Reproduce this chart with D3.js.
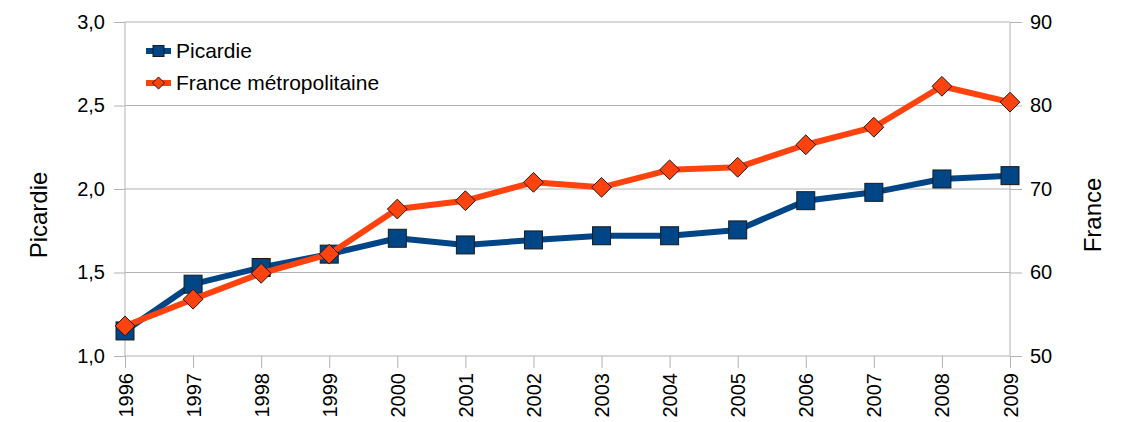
<!DOCTYPE html>
<html>
<head>
<meta charset="utf-8">
<script src="https://cdn.jsdelivr.net/npm/d3@7"></script>
<style>
  body { margin: 0; background: #fff; }
  svg { display: block; font-family: "Liberation Sans", Arial, sans-serif; }
</style>
</head>
<body>
<div id="chart"></div>
<script>
const years = ["1996", "1997", "1998", "1999", "2000", "2001", "2002", "2003", "2004", "2005", "2006", "2007", "2008", "2009"];
const picardie = [1.15, 1.43, 1.53, 1.61, 1.705, 1.665, 1.695, 1.72, 1.72, 1.755, 1.93, 1.98, 2.06, 2.08];
const france = [53.6, 56.8, 59.9, 62.2, 67.6, 68.6, 70.8, 70.2, 72.3, 72.6, 75.3, 77.4, 82.3, 80.4];
const leftTicks = [1.0, 1.5, 2.0, 2.5, 3.0];
const rightTicks = [50, 60, 70, 80, 90];

const W = 1124, H = 422;
const margin = { top: 22, right: 114, bottom: 66, left: 125 };
const innerW = W - margin.left - margin.right;
const innerH = H - margin.top - margin.bottom;

const grid = "#b3b3b3";
const blue = "#004586";
const orange = "#ff420e";
const fmtLeft = (d) => d3.format(".1f")(d).replace(".", ",");

const svg = d3.select("#chart").append("svg").attr("width", W).attr("height", H);
const g = svg.append("g").attr("transform", `translate(${margin.left},${margin.top})`);

const x = d3.scalePoint().domain(years).range([0, innerW]);
const yL = d3.scaleLinear().domain([1, 3]).range([innerH, 0]);
const yR = d3.scaleLinear().domain([50, 90]).range([innerH, 0]);

// horizontal grid lines
g.append("g")
  .selectAll("line")
  .data(leftTicks)
  .join("line")
  .attr("x1", 0).attr("x2", innerW)
  .attr("y1", (d) => yL(d)).attr("y2", (d) => yL(d))
  .attr("stroke", grid).attr("stroke-width", 1);

// left axis
g.append("g")
  .call(d3.axisLeft(yL).tickValues(leftTicks).tickFormat(fmtLeft).tickSize(11).tickPadding(9))
  .call((a) => a.select(".domain").attr("stroke", grid).attr("d", `M0,0V${innerH}`))
  .call((a) => a.selectAll(".tick line").attr("stroke", grid))
  .call((a) => a.selectAll(".tick text").attr("fill", "#000").attr("font-size", "20px").attr("font-family", "Liberation Sans, Arial, sans-serif"));

// right axis
g.append("g")
  .attr("transform", `translate(${innerW},0)`)
  .call(d3.axisRight(yR).tickValues(rightTicks).tickSize(12).tickPadding(8))
  .call((a) => a.select(".domain").attr("stroke", grid).attr("d", `M0,0V${innerH}`))
  .call((a) => a.selectAll(".tick line").attr("stroke", grid))
  .call((a) => a.selectAll(".tick text").attr("fill", "#000").attr("font-size", "20px").attr("font-family", "Liberation Sans, Arial, sans-serif"));

// bottom axis
g.append("g")
  .attr("transform", `translate(0,${innerH})`)
  .call(d3.axisBottom(x).tickSize(12).tickPadding(0))
  .call((a) => a.select(".domain").remove())
  .call((a) => a.selectAll(".tick line").attr("stroke", grid))
  .call((a) => a.selectAll(".tick text")
    .attr("fill", "#000").attr("font-size", "20px").attr("font-family", "Liberation Sans, Arial, sans-serif")
    .attr("text-anchor", "end")
    .attr("transform", "rotate(-90)")
    .attr("x", -17).attr("y", 0).attr("dy", "0.35em"));

// axis titles
svg.append("text")
  .attr("transform", "translate(47,215) rotate(-90)")
  .attr("text-anchor", "middle")
  .attr("font-size", "24px")
  .text("Picardie");
svg.append("text")
  .attr("transform", "translate(1101,215) rotate(-90)")
  .attr("text-anchor", "middle")
  .attr("font-size", "24px")
  .text("France");

const series = [
  { name: "Picardie", values: picardie, y: yL, color: blue, shape: "square" },
  { name: "France métropolitaine", values: france, y: yR, color: orange, shape: "diamond" },
];

function marker(sel, shape, size, color) {
  if (shape === "square") {
    sel.append("rect")
      .attr("x", -size / 2).attr("y", -size / 2)
      .attr("width", size).attr("height", size)
      .attr("fill", color).attr("stroke", "#1a1a1a").attr("stroke-width", 1);
  } else {
    const r = size * 0.55;
    sel.append("path")
      .attr("d", `M0,${-r}L${r},0L0,${r}L${-r},0Z`)
      .attr("fill", color).attr("stroke", "#1a1a1a").attr("stroke-width", 1);
  }
}

const line = d3.line();
for (const s of series) {
  const pts = s.values.map((v, i) => [x(years[i]), s.y(v)]);
  g.append("path")
    .attr("d", line(pts))
    .attr("fill", "none")
    .attr("stroke", s.color)
    .attr("stroke-width", 6)
    .attr("stroke-linejoin", "round");
  g.append("g")
    .selectAll("g")
    .data(pts)
    .join("g")
    .attr("transform", (d) => `translate(${d[0]},${d[1]})`)
    .each(function () { marker(d3.select(this), s.shape, 18, s.color); });
}

// legend
const legend = svg.append("g").attr("transform", "translate(146,51)");
series.forEach((s, i) => {
  const row = legend.append("g").attr("transform", `translate(0,${i * 32})`);
  row.append("line")
    .attr("x1", 0).attr("x2", 25)
    .attr("stroke", s.color).attr("stroke-width", 6);
  const m = row.append("g").attr("transform", "translate(12.5,0)");
  marker(m, s.shape, 11, s.color);
  row.append("text")
    .attr("x", 30).attr("y", 0).attr("dy", "0.35em")
    .attr("font-size", "21px")
    .text(s.name);
});
</script>
</body>
</html>
